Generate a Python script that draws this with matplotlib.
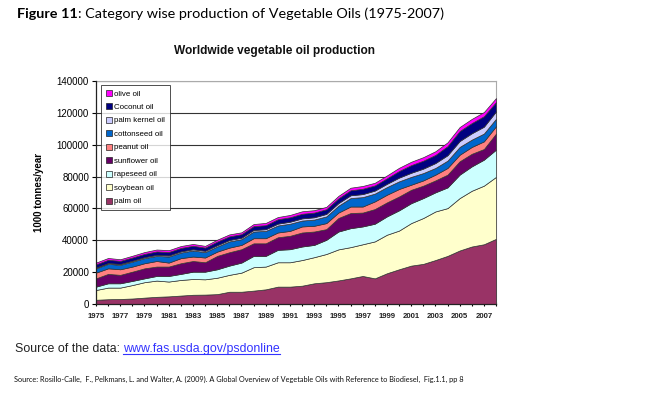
import numpy as np
import matplotlib
matplotlib.use("Agg")
import matplotlib.pyplot as plt
from matplotlib.patches import Patch

# data (1000 tonnes/year)
years = list(range(1975, 2009))
palm_oil = [2650, 3000, 3150, 3450, 4000, 4500, 4800, 5300, 5800, 5900, 6200, 7700, 7700, 8400, 9200, 10900, 10900,
            11500, 13000, 13700, 14800, 16100, 17600, 16100, 19300, 21800, 24100, 25200, 27600, 30200, 33600, 36100,
            37500, 40900]
soybean_oil = [6150, 7300, 7150, 8450, 9700, 10200, 9300, 9800, 9900, 9600, 10300, 10600, 12000, 14700, 14300, 15300,
               15300, 16100, 16400, 17700, 19500, 19600, 19900, 23200, 24200, 24300, 26700, 28800, 30500, 30000, 32900,
               35000, 36800, 38900]
rapeseed_oil = [2100, 2700, 2700, 2600, 2400, 2900, 3500, 3800, 4600, 4800, 5300, 5800, 6300, 7100, 6700, 7800, 8200,
                8500, 7700, 8900, 11200, 11900, 11200, 11100, 11500, 12700, 12500, 12500, 12000, 13000, 14700, 15300,
                16300, 17100]
sunflower_oil = [5200, 5900, 5300, 5800, 6300, 5900, 5900, 6700, 6700, 5900, 8400, 8400, 8400, 7900, 7900, 7900, 8400,
                 8800, 8400, 6700, 8500, 9500, 8700, 9200, 8800, 8700, 8400, 7800, 7500, 8000, 8400, 7900, 6700, 10100]
peanut_oil = [3600, 3500, 3500, 3200, 3200, 3500, 2500, 3200, 2800, 3000, 2700, 2900, 2700, 3200, 3200, 3000, 3100,
              3800, 3600, 3800, 3400, 4100, 3800, 4800, 4800, 4700, 3200, 3300, 3600, 4200, 4100, 4300, 4800, 4600]
cottonseed_oil = [2700, 2800, 2800, 3100, 3200, 3200, 3800, 3500, 3800, 3400, 3200, 3900, 3600, 4200, 4600, 4400, 4500,
                  3700, 3900, 4200, 4300, 5300, 5900, 4900, 4800, 4800, 4900, 4600, 4200, 4600, 4900, 4600, 4900, 4700]
palm_kernel_oil = [500, 520, 550, 580, 620, 650, 680, 720, 760, 780, 820, 880, 900, 980, 1050, 1150, 1250, 1350, 1450,
                   1550, 1650, 1750, 1900, 1900, 2050, 2350, 2600, 2800, 3100, 3400, 3700, 4000, 4300, 4600]
coconut_oil = [2000, 2030, 1950, 2020, 2030, 2150, 2170, 2180, 2190, 2020, 2280, 2270, 2250, 2420, 2550, 2750, 2800,
               2900, 2950, 2950, 3000, 3150, 3350, 3250, 3450, 4150, 4800, 5000, 5100, 5700, 6300, 6400, 6600, 5900]
olive_oil = [1100, 1150, 1000, 1100, 1150, 1200, 1150, 1200, 1150, 1100, 1200, 1250, 1150, 1300, 1400, 1400, 1450,
             1550, 1500, 1500, 1550, 1600, 1750, 1650, 1800, 2000, 2100, 2200, 2300, 2400, 2500, 2600, 2600, 2500]

series = [palm_oil, soybean_oil, rapeseed_oil, sunflower_oil, peanut_oil, cottonseed_oil,
          palm_kernel_oil, coconut_oil, olive_oil]
names = ["palm oil", "soybean oil", "rapeseed oil", "sunflower oil", "peanut oil", "cottonseed oil",
         "palm kernel oil", "Coconut oil", "olive oil"]
colors = ["#993366", "#FFFFCC", "#CCFFFF", "#660066", "#FF8080", "#0066CC",
          "#CCCCFF", "#000080", "#FF00FF"]

W, H = 646, 397
fig = plt.figure(figsize=(W / 100, H / 100), dpi=100)
fig.patch.set_facecolor("white")

ax = fig.add_axes([96 / W, 1 - 304 / H, 400 / W, 223 / H])
ax.stackplot(years, *series, colors=colors, edgecolor="#333333", linewidth=0.5, zorder=3)

ax.set_xlim(1975, 2008)
ax.set_ylim(0, 140000)
ax.set_yticks(range(0, 140001, 20000))
ax.set_yticklabels([str(v) for v in range(0, 140001, 20000)], fontsize=7, family="Liberation Sans")
ax.set_xticks(years)
ax.set_xticklabels([str(y) if y % 2 == 1 else "" for y in years], fontsize=5.6,
                   family="Liberation Sans", fontweight="bold", color="#222222")
ax.tick_params(axis="x", length=3, width=0.8, pad=5, direction="inout")
ax.tick_params(axis="y", length=3, width=0.8, pad=2, direction="out")
ax.grid(axis="y", color="#333333", linewidth=0.8, zorder=1)
ax.set_axisbelow(True)
for side in ["top", "right"]:
    ax.spines[side].set_color("#aaaaaa")
    ax.spines[side].set_linewidth(0.8)
for side in ["left", "bottom"]:
    ax.spines[side].set_color("#222222")
    ax.spines[side].set_linewidth(0.9)
    ax.spines[side].set_zorder(5)

ax.set_ylabel("1000 tonnes/year", fontsize=7, fontweight="bold", family="Liberation Sans", labelpad=9)

handles = [Patch(facecolor=c, edgecolor="#222222", linewidth=0.5) for c in colors]
leg = ax.legend(handles[::-1], names[::-1], loc="upper left", bbox_to_anchor=(5 / 400, 1 - 4 / 223),
                prop={"family": "Liberation Sans", "size": 5.7}, frameon=True, fancybox=False,
                handlelength=0.8, handleheight=0.8, handletextpad=0.3, labelspacing=0.72,
                borderpad=0.6, borderaxespad=0.0)
leg.get_frame().set_edgecolor("#222222")
leg.get_frame().set_linewidth(0.7)
leg.set_zorder(10)

fig.text(275 / W, 1 - 51 / H, "Worldwide vegetable oil production", ha="center", va="center",
         fontsize=8.6, fontweight="bold", family="Liberation Sans", color="#111111")

# headline, bold label followed by plain text
t1 = fig.text(17 / W, 1 - 14 / H, "Figure 11", ha="left", va="center", fontsize=10.4,
              fontweight="bold", family="Lato")
fig.canvas.draw()
bb = t1.get_window_extent()
fig.text(bb.x1 / W, 1 - 14 / H, ": Category wise production of Vegetable Oils (1975-2007)",
         ha="left", va="center", fontsize=10.4, family="Lato")

t2 = fig.text(15 / W, 1 - 349 / H, "Source of the data: ", ha="left", va="center", fontsize=8.9,
              family="Liberation Sans", color="#222222")
fig.canvas.draw()
bb = t2.get_window_extent()
t3 = fig.text(bb.x1 / W, 1 - 349 / H, "www.fas.usda.gov/psdonline", ha="left", va="center",
              fontsize=8.9, family="Liberation Sans", color="#3333FF")
fig.canvas.draw()
bb3 = t3.get_window_extent()
fig.add_artist(plt.Line2D([bb3.x0 / W, bb3.x1 / W], [(bb3.y0 + 1) / H, (bb3.y0 + 1) / H],
                          color="#3333FF", linewidth=0.8))

fig.text(14 / W, 1 - 379 / H,
         "Source: Rosillo-Calle,  F., Pelkmans, L. and Walter, A. (2009). A Global Overview of Vegetable Oils "
         "with Reference to Biodiesel,  Fig.1.1, pp 8",
         ha="left", va="center", fontsize=5.35, family="Lato", color="#111111")

fig.savefig("out.png", dpi=100, facecolor="white")
